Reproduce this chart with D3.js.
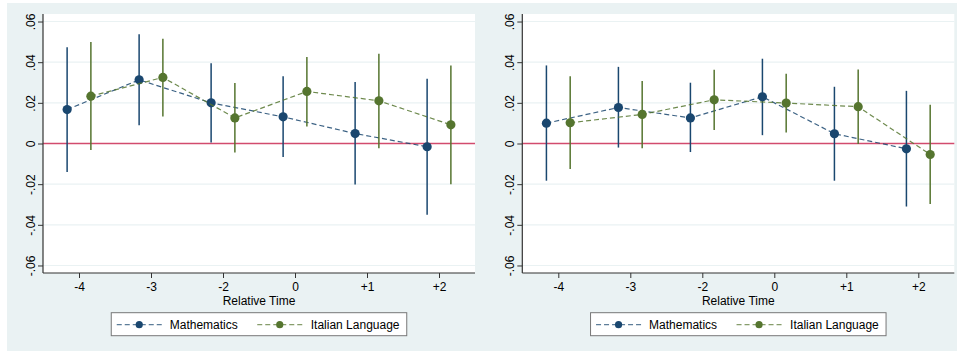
<!DOCTYPE html>
<html><head><meta charset="utf-8">
<script src="https://cdn.jsdelivr.net/npm/d3@7/dist/d3.min.js"></script>
<style>
html,body{margin:0;padding:0;background:#fff;}
svg{display:block;font-family:"Liberation Sans",Arial,sans-serif;}
</style></head>
<body>
<svg id="chart" width="957" height="351"></svg>
<script>
// ---- data ----
const categories = ["-4", "-3", "-2", "0", "+1", "+2"];
const yTickValues = [0.06, 0.04, 0.02, 0, -0.02, -0.04, -0.06];
const yTickLabels = [".06", ".04", ".02", "0", "-.02", "-.04", "-.06"];
const seriesNames = ["Mathematics", "Italian Language"];
const seriesColors = ["#1a476f", "#55752f"];

// left panel
const leftMath      = [0.0167, 0.0313, 0.0200, 0.0131, 0.0049, -0.0016];
const leftMathLo    = [-0.0140, 0.0090, 0.0005, -0.0067, -0.0202, -0.0351];
const leftMathHi    = [0.0474, 0.0538, 0.0395, 0.0331, 0.0303, 0.0318];
const leftItal      = [0.0233, 0.0325, 0.0126, 0.0256, 0.0210, 0.0092];
const leftItalLo    = [-0.0032, 0.0133, -0.0044, 0.0084, -0.0023, -0.0200];
const leftItalHi    = [0.0499, 0.0515, 0.0297, 0.0426, 0.0441, 0.0384];

// right panel
const rightMath     = [0.0100, 0.0177, 0.0126, 0.0230, 0.0048, -0.0026];
const rightMathLo   = [-0.0183, -0.0020, -0.0042, 0.0041, -0.0183, -0.0310];
const rightMathHi   = [0.0384, 0.0377, 0.0299, 0.0417, 0.0279, 0.0259];
const rightItal     = [0.0102, 0.0143, 0.0215, 0.0199, 0.0181, -0.0054];
const rightItalLo   = [-0.0126, -0.0023, 0.0066, 0.0054, -0.0003, -0.0298];
const rightItalHi   = [0.0331, 0.0308, 0.0363, 0.0343, 0.0364, 0.0190];

const xTitle = "Relative Time";

// ---- drawing ----
const svg = d3.select("#chart");
svg.append("rect").attr("x", 7).attr("y", 3).attr("width", 950).attr("height", 348).attr("fill", "#eaf2f3");

function drawPanel(left, right, series) {
  const top = 14, bottom = 273;
  const g = svg.append("g");
  const x = d3.scaleLinear().domain([-0.5, categories.length - 0.5]).range([left, right]);
  const y = d3.scaleLinear().domain([-0.0637, 0.0637]).range([bottom, top]);
  const offsets = [-0.165, 0.165];

  g.append("rect").attr("x", left).attr("y", top).attr("width", right - left).attr("height", bottom - top).attr("fill", "#fff");

  // gridlines
  g.selectAll("line.grid").data(yTickValues).join("line")
    .attr("x1", left).attr("x2", right)
    .attr("y1", d => y(d)).attr("y2", d => y(d))
    .attr("stroke", "#eaf2f3").attr("stroke-width", 1.2);

  // zero line
  g.append("line").attr("x1", left).attr("x2", right).attr("y1", y(0)).attr("y2", y(0))
    .attr("stroke", "#d24b6e").attr("stroke-width", 1.6);

  // y axis
  const ya = g.append("g").attr("transform", `translate(${left},0)`)
    .call(d3.axisLeft(y).tickValues(yTickValues).tickFormat((d, i) => yTickLabels[i]).tickSize(5).tickSizeOuter(0));
  ya.select(".domain").remove();
  ya.append("line").attr("x1", 0).attr("x2", 0).attr("y1", top).attr("y2", bottom).attr("stroke", "#333").attr("stroke-width", 1.2);
  ya.selectAll(".tick line").attr("stroke", "#333");
  ya.selectAll(".tick text")
    .attr("transform", "rotate(-90)")
    .attr("x", 0).attr("y", -8.5).attr("dy", 0)
    .attr("text-anchor", "middle")
    .attr("font-size", 12).attr("fill", "#000")
    .attr("font-family", "Liberation Sans, Arial, sans-serif");

  // x axis
  const xa = g.append("g").attr("transform", `translate(0,${bottom})`)
    .call(d3.axisBottom(x).tickValues(d3.range(categories.length)).tickFormat(i => categories[i]).tickSize(5).tickSizeOuter(0));
  xa.select(".domain").remove();
  xa.append("line").attr("x1", left).attr("x2", right).attr("y1", 0).attr("y2", 0).attr("stroke", "#333").attr("stroke-width", 1.2);
  xa.selectAll(".tick line").attr("stroke", "#333");
  xa.selectAll(".tick text").attr("y", 9).attr("dy", "0.71em").attr("font-size", 12).attr("fill", "#000")
    .attr("font-family", "Liberation Sans, Arial, sans-serif");

  g.append("text").attr("x", (left + right) / 2).attr("y", 304.5).attr("text-anchor", "middle")
    .attr("font-size", 12).attr("fill", "#000").text(xTitle);

  // series
  series.forEach((s, si) => {
    const col = seriesColors[si];
    const px = i => x(i + offsets[si]);
    // CI lines
    g.append("g").selectAll("line").data(s.v).join("line")
      .attr("x1", (d, i) => px(i)).attr("x2", (d, i) => px(i))
      .attr("y1", (d, i) => y(s.lo[i])).attr("y2", (d, i) => y(s.hi[i]))
      .attr("stroke", col).attr("stroke-width", 1.5);
    // connecting dashed line
    const line = d3.line().x((d, i) => px(i)).y(d => y(d));
    g.append("path").attr("d", line(s.v)).attr("fill", "none")
      .attr("stroke", col).attr("stroke-width", 1.2).attr("stroke-dasharray", "5,3").attr("opacity", 0.85);
    // markers
    g.append("g").selectAll("circle").data(s.v).join("circle")
      .attr("cx", (d, i) => px(i)).attr("cy", d => y(d)).attr("r", 4.6).attr("fill", col);
  });

  // legend
  const lw = 295.5, lh = 23;
  const lx = (left + right) / 2 - lw / 2, ly = 312.7;
  const lg = g.append("g").attr("transform", `translate(${lx},${ly})`);
  lg.append("rect").attr("x", 0).attr("y", 0).attr("width", lw).attr("height", lh)
    .attr("fill", "#fff").attr("stroke", "#777").attr("stroke-width", 1);
  const itemX = [5.5, 146];
  const textX = [58.5, 199.5];
  seriesNames.forEach((n, si) => {
    lg.append("line").attr("x1", itemX[si]).attr("x2", itemX[si] + 45.5).attr("y1", 12).attr("y2", 12)
      .attr("stroke", seriesColors[si]).attr("stroke-width", 1.2).attr("stroke-dasharray", "5,3").attr("opacity", 0.7);
    lg.append("circle").attr("cx", itemX[si] + 22.5).attr("cy", 12).attr("r", 3.6).attr("fill", seriesColors[si]);
    lg.append("text").attr("x", textX[si]).attr("y", 16.2).attr("font-size", 12).attr("fill", "#000").text(n);
  });
}

drawPanel(43, 475, [
  {v: leftMath, lo: leftMathLo, hi: leftMathHi},
  {v: leftItal, lo: leftItalLo, hi: leftItalHi}
]);
drawPanel(522.3, 954.3, [
  {v: rightMath, lo: rightMathLo, hi: rightMathHi},
  {v: rightItal, lo: rightItalLo, hi: rightItalHi}
]);
</script>
</body></html>
